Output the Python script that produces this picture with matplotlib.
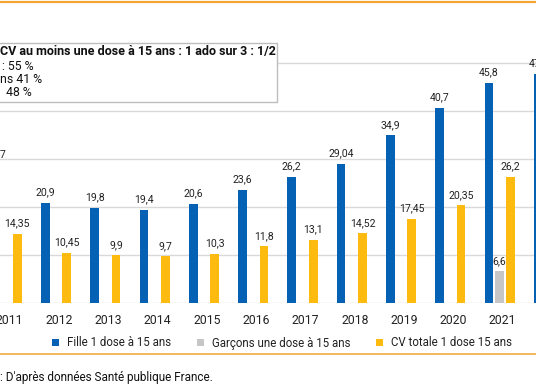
import numpy as np
import matplotlib
matplotlib.use("Agg")
import matplotlib.pyplot as plt
from matplotlib.lines import Line2D
from matplotlib.patches import Rectangle

plt.rcParams['font.family'] = ['Roboto', 'DejaVu Sans']

# data
years = ['2011', '2012', '2013', '2014', '2015', '2016', '2017', '2018',
         '2019', '2020', '2021', '2022']
fille = [28.7, 20.9, 19.8, 19.4, 20.6, 23.6, 26.2, 29.04, 34.9, 40.7, 45.8, 47.8]
garcons = [np.nan] * 10 + [6.6, 12.8]
total = [14.35, 10.45, 9.9, 9.7, 10.3, 11.8, 13.1, 14.52, 17.45, 20.35, 26.2, 30.3]

box_lines = ["CV au moins une dose à 15 ans : 1 ado sur 3 : 1/2",
             ": 55 %", "ns 41 %", " 48 %"]

BLUE = '#0561b4'
GREY = '#c6c6c6'
YELLOW = '#fdbb0f'
ORANGE = '#f3a531'

W, H = 536, 386
fig = plt.figure(figsize=(W / 100, H / 100), dpi=100)

# axes run past the left/right edges (the reference is a crop)
ax = fig.add_axes([0, (H - 303) / H, 1, 293 / H])

x = np.arange(len(years))
bw = 0.176
off = 0.217

def fmt(v):
    return ('%g' % v).replace('.', ',')

series = [(fille, -off, BLUE, 'Fille 1 dose à 15 ans'),
          (garcons, 0, GREY, 'Garçons une dose à 15 ans'),
          (total, off, YELLOW, 'CV totale 1 dose 15 ans')]
handles = []
for vals, dx, col, lab in series:
    b = ax.bar(x + dx, vals, width=bw, color=col, label=lab, zorder=3)
    handles.append(b)
    for xi, v in zip(x + dx, vals):
        if np.isnan(v):
            continue
        ax.annotate(fmt(v), (xi, v), xytext=(0, 4), textcoords='offset points',
                    ha='center', va='bottom', fontsize=7.6, color='#222222',
                    annotation_clip=False)

for s in ax.spines.values():
    s.set_visible(False)
ax.set_yticks(np.arange(0, 51, 10))
ax.set_yticklabels([])
ax.grid(axis='y', color='#d9d9d9', lw=1, zorder=0)
# year labels sit a little right of the group centre in the original
ax.set_xticks(x + 0.06)
ax.set_xticklabels(years, fontsize=8.8, color='#222222')
ax.tick_params(length=0, pad=8)
# limits set after the ticks so they are not widened again
ax.set_xlim(-6.7 / 49.3, (W - 6.7) / 49.3)
ax.set_ylim(0, 293 / 4.8)

# orange rules
fig.add_artist(Line2D([0, 1], [1 - 1.5 / H, 1 - 1.5 / H], color=ORANGE, lw=1.6))
fig.add_artist(Line2D([0, 1], [1 - 354 / H, 1 - 354 / H], color=ORANGE, lw=1.1))

# annotation box (cut at left edge)
fig.add_artist(Rectangle((-0.01, 1 - 102 / H), 277 / W + 0.01, 59 / H,
                         transform=fig.transFigure, facecolor='white',
                         edgecolor='#bdbdbd', lw=1, zorder=5))
ys = [51, 66.5, 79.5, 92.5]
xs = [0, 2, 0, 3]
for i, (t, yy, xx) in enumerate(zip(box_lines, ys, xs)):
    fig.text(xx / W, 1 - yy / H, t, fontsize=9.0 if i == 0 else 8.8,
             va='center', ha='left',
             fontweight='bold' if i == 0 else 'normal', color='#111111', zorder=6)

leg = fig.legend(handles=handles, loc='center', bbox_to_anchor=(282 / W, 1 - 343 / H),
                 ncol=3, frameon=False, fontsize=8.3, handlelength=0.6,
                 handleheight=0.6, handletextpad=0.7, columnspacing=2.2)
for t in leg.get_texts():
    t.set_color('#222222')

fig.text(0, 1 - 378 / H, ": D'après données Santé publique France.", fontsize=8.5,
         va='center', ha='left', color='#111111')

fig.savefig('out.png', dpi=100)
